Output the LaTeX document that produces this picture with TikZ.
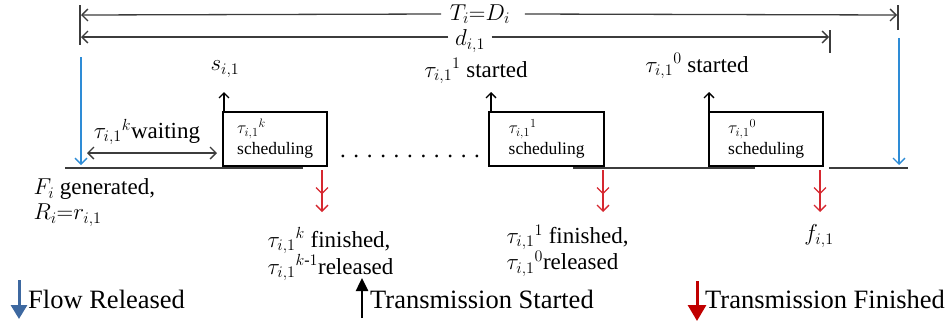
\RequirePackage{fix-cm}
\documentclass[tikz,border=0pt]{standalone}
\usepackage{amsmath}
\usepackage{fontspec}
\setmainfont{Liberation Serif}
\usetikzlibrary{arrows.meta, positioning}
\definecolor{flow_blue}{RGB}{46, 140, 214}
\definecolor{key_blue}{RGB}{61, 104, 160}
\definecolor{fin_red}{RGB}{214, 40, 48}
\definecolor{key_red}{RGB}{192, 0, 0}
\definecolor{axis_gray}{RGB}{60, 60, 60}
\newcommand{\tsk}[1]{${\tau_{i,1}}^{#1}$}

\begin{document}
\begin{tikzpicture}[x=1pt, y=-1pt,
    lbl/.style={font=\fontsize{23}{25}\selectfont, inner sep=0.5pt},
    keylbl/.style={font=\fontsize{26.5}{28}\selectfont, inner sep=0pt, anchor=base west},
    schedbox/.style={draw, line width=2.4pt, fill=white, anchor=south west,
                     minimum height=54pt, text width=76pt, align=left,
                     inner xsep=14pt, font=\fontsize{17.5}{21}\selectfont},
    tick/.style={line width=1.3pt, axis_gray},
    dim/.style={line width=1.3pt, axis_gray, -{Straight Barb[length=6pt, width=12pt]}},
    startarr/.style={line width=1.3pt, -{Straight Barb[length=5pt, width=10pt]}},
    relarr/.style={line width=1.3pt, flow_blue, -{Straight Barb[length=6pt, width=12pt]}},
    finarr/.style={line width=1.3pt, fin_red,
                   -{Straight Barb[length=6pt, width=12pt, sep=10pt] Straight Barb[length=6pt, width=12pt]}},
    waitarr/.style={line width=1.3pt, axis_gray,
                    {Straight Barb[length=6pt, width=12pt]}-{Straight Barb[length=6pt, width=12pt]}}]
  \useasboundingbox (0,0) rectangle (952,325);

  % time line
  \draw[line width=1.2pt, axis_gray] (65,168) -- (303,168);
  \draw[line width=1.2pt, axis_gray] (573,168) -- (755,168);
  \draw[line width=1.2pt, axis_gray] (829,168) -- (908,168);

  % period and deadline
  \draw[tick] (80,5) -- (80,45);
  \draw[tick] (898,5) -- (898,30);
  \draw[tick] (830,30) -- (830,53);
  \coordinate (per_l) at (81,15);
  \coordinate (per_r) at (897,15);
  \coordinate (dl_l) at (81,37);
  \coordinate (dl_r) at (829,37);
  \node[lbl] (per) at (480,14) {$T_i{=}D_i$};
  \node[lbl] (dl) at (470,41) {$d_{i,1}$};
  \draw[dim] (per.west) ++(-8,0) coordinate (per_w) (per_w) -- (per_l);
  \draw[dim] (per.east) ++(14,0) coordinate (per_e) (per_e) -- (per_r);
  \draw[dim] (dl.west) ++(-6,-4) coordinate (dl_w) (dl_w) -- (dl_l);
  \draw[dim] (dl.east) ++(6,-4) coordinate (dl_e) (dl_e) -- (dl_r);

  % flow released
  \coordinate (rel1_a) at (81,57);
  \coordinate (rel1_b) at (81,165);
  \coordinate (rel2_a) at (899,38);
  \coordinate (rel2_b) at (899,165);
  \draw[relarr] (rel1_a) -- (rel1_b);
  \draw[relarr] (rel2_a) -- (rel2_b);

  % scheduling boxes
  \node[schedbox, minimum width=100pt] (sk) at (222,167) {\tsk{k}\\scheduling};
  \node[schedbox, minimum width=115pt] (s1) at (488,167) {\tsk{1}\\scheduling};
  \node[schedbox, minimum width=114pt] (s0) at (708,167) {\tsk{0}\\scheduling};
  \node[lbl, anchor=base] (dots) at (410,157) {. . . . . . . . . . .};

  % waiting
  \node[lbl] (wait) at (147,132) {\tsk{k}waiting};
  \coordinate (wait_l) at (87,153);
  \coordinate (wait_r) at (217,153);
  \draw[waitarr] (wait_l) -- (wait_r);

  % transmission started
  \node[lbl] (st_k) at (225,69) {$s_{i,1}$};
  \node[lbl] (st_1) at (476,71) {\tsk{1} started};
  \node[lbl] (st_0) at (697,66) {\tsk{0} started};
  \coordinate (up_k) at (224,92);
  \coordinate (up_1) at (491,92);
  \coordinate (up_0) at (709,92);
  \draw[startarr] (up_k |- sk.north) -- (up_k);
  \draw[startarr] (up_1 |- s1.north) -- (up_1);
  \draw[startarr] (up_0 |- s0.north) -- (up_0);

  % transmission finished
  \coordinate (dn_k) at (322,212);
  \coordinate (dn_1) at (603,212);
  \coordinate (dn_0) at (820,212);
  \draw[finarr] (dn_k |- sk.south) ++(0,3) coordinate (fk_top) (fk_top) -- (dn_k);
  \draw[finarr] (dn_1 |- s1.south) ++(0,3) coordinate (f1_top) (f1_top) -- (dn_1);
  \draw[finarr] (dn_0 |- s0.south) ++(0,3) coordinate (f0_top) (f0_top) -- (dn_0);
  \node[lbl, anchor=north west, align=left] (fin_k) at (267,227)
       {\tsk{k} finished,\\\tsk{k\text{-}1}released};
  \node[lbl, anchor=north west, align=left] (fin_1) at (506,224)
       {\tsk{1} finished,\\\tsk{0}released};
  \node[lbl] (fin_0) at (819,236) {$f_{i,1}$};

  % generated
  \node[lbl, anchor=north west, align=left] (gen) at (33,178)
       {$F_i$ generated,\\$R_i{=}r_{i,1}$};

  % legend
  \coordinate (key1_a) at (19,280);
  \coordinate (key1_b) at (19,319);
  \coordinate (key2_a) at (362,318);
  \coordinate (key2_b) at (362,278);
  \coordinate (key3_a) at (697,281);
  \coordinate (key3_b) at (697,321);
  \draw[line width=3pt, key_blue, -{Triangle[length=14pt, width=16pt]}] (key1_a) -- (key1_b);
  \draw[line width=2.5pt, black, -{Triangle[length=13pt, width=12pt]}] (key2_a) -- (key2_b);
  \draw[line width=3pt, key_red, -{Triangle[length=16pt, width=18pt]}] (key3_a) -- (key3_b);
  \node[keylbl] (key1) at (28,308) {Flow Released};
  \node[keylbl] (key2) at (370,308) {Transmission Started};
  \node[keylbl] (key3) at (705,308) {Transmission Finished};
\end{tikzpicture}
\end{document}
